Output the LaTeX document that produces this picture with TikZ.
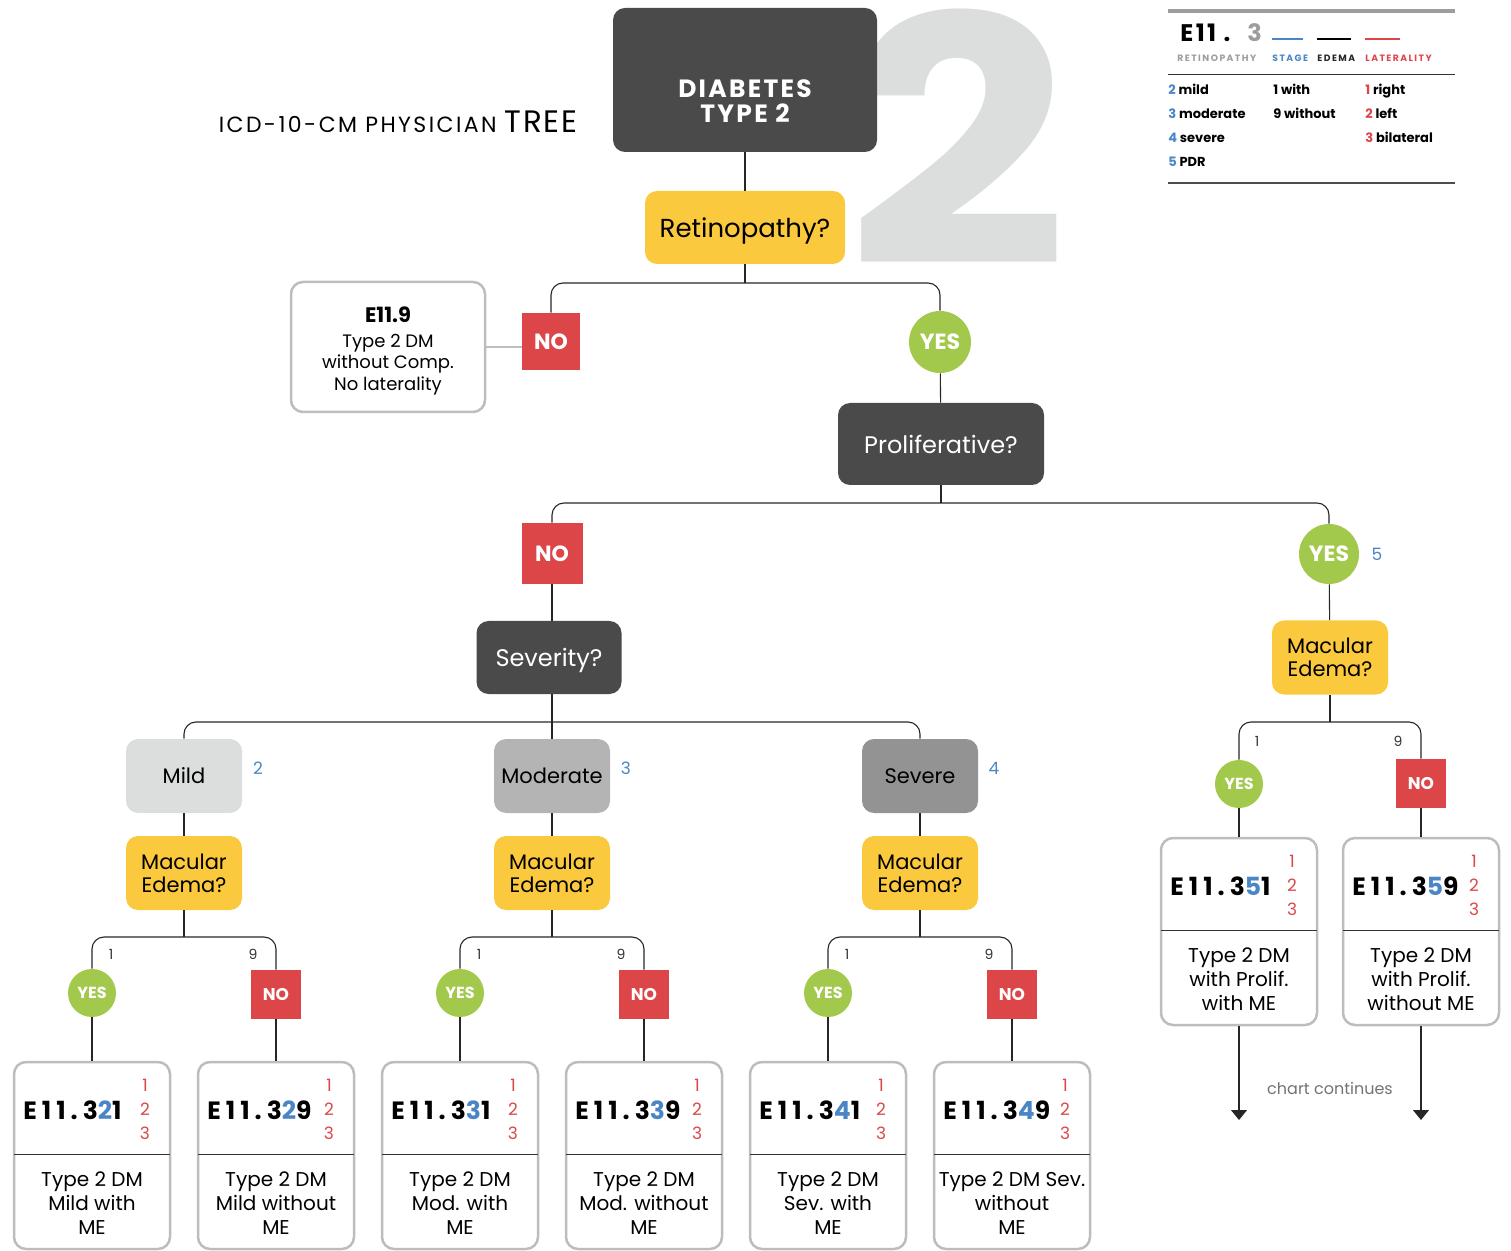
\documentclass[tikz,border=0pt]{standalone}
\usepackage{fontspec}
\setmainfont{Poppins}
\usetikzlibrary{arrows.meta}
\definecolor{darkbox}{HTML}{4A4A4A}
\definecolor{qyellow}{HTML}{FBC93D}
\definecolor{nored}{HTML}{DC4649}
\definecolor{yesgreen}{HTML}{A2C94C}
\definecolor{stageblue}{HTML}{4A86C5}
\definecolor{lightgrey}{HTML}{DCDDDD}
\definecolor{midgrey}{HTML}{B4B4B4}
\definecolor{deepgrey}{HTML}{939393}
\definecolor{rimgrey}{HTML}{BDBDBD}
\definecolor{leggrey}{HTML}{9D9D9D}
\tikzset{
  conn/.style={draw=black!85, line width=0.55pt},
  elbow/.style={conn, rounded corners=6pt},
  darkq/.style={fill=darkbox, text=white, rounded corners=6pt, inner sep=0pt, align=center},
  yellowq/.style={fill=qyellow, rounded corners=6pt, inner sep=0pt, align=center},
  greyq/.style={rounded corners=6pt, inner sep=0pt, minimum width=58pt, minimum height=37pt, font=\fontsize{10.5}{12}\selectfont},
  nobox/.style={fill=nored, text=white, inner sep=0pt, font=\bfseries\fontsize{11}{11}\selectfont},
  yesdot/.style={circle, fill=yesgreen, text=white, inner sep=0pt, font=\bfseries\fontsize{11}{11}\selectfont},
  smallno/.style={nobox, minimum width=25pt, minimum height=24.5pt, font=\bfseries\fontsize{8.5}{8.5}\selectfont},
  smallyes/.style={yesdot, minimum size=24pt, font=\bfseries\fontsize{8}{8}\selectfont},
  stagenum/.style={text=stageblue, inner sep=0pt, font=\fontsize{8.5}{8.5}\selectfont},
  branchnum/.style={text=black!80, inner sep=0pt, font=\fontsize{7}{7}\selectfont},
  codeframe/.style={draw=rimgrey, line width=1.25pt, fill=white, rounded corners=6pt, minimum width=78pt, minimum height=93.5pt, inner sep=0pt},
  codetext/.style={inner sep=0pt, font=\bfseries\fontsize{12.5}{12.5}\selectfont\addfontfeature{LetterSpace=20}},
  latnum/.style={text=nored, align=center, inner sep=0pt, font=\fontsize{8.5}{12}\selectfont},
  desctext/.style={align=center, inner sep=0pt, font=\fontsize{10}{12}\selectfont},
  legcap/.style={anchor=base west, inner sep=0pt, font=\bfseries\fontsize{4.6}{5}\selectfont\addfontfeature{LetterSpace=16}},
  legrow/.style={anchor=base west, inner sep=0pt, font=\bfseries\fontsize{6.5}{6.5}\selectfont},
}
% code box: name, centre x, top y, stage digit, edema digit, description
\newcommand{\codebox}[6]{%
  \node[codeframe] (#1) at (#2,#3+93.5) {};
  \draw[line width=0.5pt, draw=black!80] (#2-78,#3+92.5) -- (#2+78,#3+92.5);
  \node[codetext, anchor=west] (#1-code) at (#2-69,#3+48) {E11.3\textcolor{stageblue}{#4}#5};
  \node[latnum] (#1-lat) at (#2+53,#3+47) {1\\2\\3};
  \node[desctext] (#1-desc) at (#2,#3+141) {#6};
}
\begin{document}
\begin{tikzpicture}[x=0.5pt,y=-0.5pt]
  \useasboundingbox (0,0) rectangle (1511,1251);
  % big background digit and title
  \node[text=lightgrey, inner sep=0pt, anchor=base, font=\bfseries\fontsize{172}{172}\selectfont] (bigtwo) at (957,266) {\scalebox{1.13}[1]{2}};
  \node[anchor=base east, inner sep=0pt] (title) at (578,133)
    {{\fontsize{11}{11}\selectfont\addfontfeature{LetterSpace=11}ICD-10-CM PHYSICIAN}\hspace{4pt}{\fontsize{15.5}{15.5}\selectfont\addfontfeature{LetterSpace=6}TREE}};

  % top of the tree
  \node[darkq, minimum width=132pt, minimum height=72pt] (diab) at (745,80) {};
  \node[text=white, inner sep=0pt, align=center, font=\bfseries\fontsize{12.5}{12.5}\selectfont\addfontfeature{LetterSpace=9}] (diab-text) at (745,101) {DIABETES\\TYPE 2};
  \node[yellowq, minimum width=100pt, minimum height=36.5pt, text depth=0pt, font=\fontsize{13}{13}\selectfont] (retin) at (745,227.5) {Retinopathy?};
  \node[nobox, minimum width=29pt, minimum height=28.5pt] (no1) at (551,341.5) {NO};
  \node[yesdot, minimum size=31pt] (yes1) at (940,342) {YES};
  \node[draw=rimgrey, line width=1.25pt, rounded corners=6pt, minimum width=97pt, minimum height=65pt, inner sep=0pt] (e119) at (388,347) {};
  \node[inner sep=0pt, align=center, font=\fontsize{9}{10.75}\selectfont] (e119-text) at (388,351)
    {{\bfseries\fontsize{10.5}{13}\selectfont E11.9}\\[1.5pt]Type 2 DM\\without Comp.\\No laterality};
  \coordinate (j1) at (745,283);
  \draw[conn] (diab) -- (retin);
  \draw[conn] (retin) -- (j1);
  \draw[elbow] (no1.north) |- (j1) -| (yes1.north);
  \draw[conn, draw=rimgrey] (e119.east) -- (e119.east -| no1.west);

  % proliferative?
  \node[darkq, minimum width=103pt, minimum height=41pt, font=\fontsize{12}{12}\selectfont] (prolif) at (941,444) {Proliferative?};
  \node[nobox, minimum width=30.5pt, minimum height=30.5pt] (no2) at (552,553.5) {NO};
  \node[yesdot, minimum size=30pt] (yes2) at (1329,554) {YES};
  \node[stagenum] (s5) at (1377,554) {5};
  \coordinate (j2) at (941,503);
  \draw[conn] (yes1) -- (prolif);
  \draw[conn] (prolif) -- (j2);
  \draw[elbow] (no2.north) |- (j2) -| (yes2.north);

  % severity
  \node[darkq, minimum width=72.5pt, minimum height=36.5pt, text depth=0pt, font=\fontsize{12}{12}\selectfont] (sever) at (549,657.5) {Severity?};
  \coordinate (j3) at (552,722);
  \draw[conn] (no2) -- (no2 |- sever.north);
  \draw[conn] (j3 |- sever.south) -- (j3);
  \foreach \g/\cx/\lvl/\shade/\num in {1/184/Mild/lightgrey/2, 2/552/Moderate/midgrey/3, 3/920/Severe/deepgrey/4} {
    \node[greyq, fill=\shade] (stage\g) at (\cx,776) {\lvl};
    \node[stagenum] (num\g) at (\cx+74,768) {\num};
    \node[yellowq, minimum width=58pt, minimum height=37pt, font=\fontsize{10.5}{11.5}\selectfont] (me\g) at (\cx,873) {Macular\\Edema?};
    \node[smallyes] (y\g) at (\cx-92,993) {YES};
    \node[smallno] (n\g) at (\cx+92,994.5) {NO};
    \node[branchnum] (w\g) at (\cx-73,954) {1};
    \node[branchnum] (wo\g) at (\cx+69,954) {9};
    \coordinate (jb\g) at (\cx,937);
    \draw[conn] (stage\g) -- (me\g);
    \draw[conn] (me\g) -- (jb\g);
    \draw[elbow] (y\g.north) |- (jb\g) -| (n\g.north);
  }
  \draw[elbow] (stage1.north) |- (j3) -| (stage3.north);
  \draw[conn] (j3) -- (stage2);

  % final codes
  \codebox{c321}{92}{1062}{2}{1}{Type 2 DM\\Mild with\\ME}
  \codebox{c329}{276}{1062}{2}{9}{Type 2 DM\\Mild without\\ME}
  \codebox{c331}{460}{1062}{3}{1}{Type 2 DM\\Mod. with\\ME}
  \codebox{c339}{644}{1062}{3}{9}{Type 2 DM\\Mod. without\\ME}
  \codebox{c341}{828}{1062}{4}{1}{Type 2 DM\\Sev. with\\ME}
  \codebox{c349}{1012}{1062}{4}{9}{Type 2 DM Sev.\\without\\ME}
  \draw[conn] (y1) -- (c321);
  \draw[conn] (n1) -- (c329);
  \draw[conn] (y2) -- (c331);
  \draw[conn] (n2) -- (c339);
  \draw[conn] (y3) -- (c341);
  \draw[conn] (n3) -- (c349);

  % proliferative branch
  \node[yellowq, minimum width=58pt, minimum height=37pt, font=\fontsize{10.5}{11.5}\selectfont] (me4) at (1330,657.5) {Macular\\Edema?};
  \node[smallyes] (y4) at (1239,784) {YES};
  \node[smallno] (n4) at (1421,783.5) {NO};
  \node[branchnum] (w4) at (1257,741) {1};
  \node[branchnum] (wo4) at (1398,741) {9};
  \coordinate (j7) at (1330,722);
  \draw[conn] (yes2) -- (me4);
  \draw[conn] (me4) -- (j7);
  \draw[elbow] (y4.north) |- (j7) -| (n4.north);
  \codebox{c351}{1239}{838}{5}{1}{Type 2 DM\\with Prolif.\\with ME}
  \codebox{c359}{1421}{838}{5}{9}{Type 2 DM\\with Prolif.\\without ME}
  \draw[conn] (y4) -- (c351);
  \draw[conn] (n4) -- (c359);
  \coordinate (end351) at (1239,1120);
  \coordinate (end359) at (1421,1120);
  \draw[conn, -{Triangle[width=8pt,length=5pt]}] (c351.south) -- (end351);
  \draw[conn, -{Triangle[width=8pt,length=5pt]}] (c359.south) -- (end359);
  \node[text=black!55, inner sep=0pt, font=\fontsize{8}{8}\selectfont] (cont) at (1330,1088) {chart continues};

  % legend
  \draw[draw=leggrey, line width=2pt] (1168,11) -- (1455,11);
  \node[anchor=base west, inner sep=0pt, font=\bfseries\fontsize{12}{12}\selectfont\addfontfeature{LetterSpace=10}] (legcode) at (1180,42) {E11 .};
  \node[anchor=base west, inner sep=0pt, text=leggrey, font=\bfseries\fontsize{12}{12}\selectfont] (legret) at (1247,42) {3};
  \draw[stageblue, line width=1.2pt] (1272,39) -- (1303,39);
  \draw[black, line width=1.2pt] (1317,39) -- (1351,39);
  \draw[nored, line width=1.2pt] (1365,39) -- (1400,39);
  \node[legcap, text=leggrey] (cap1) at (1177,62) {RETINOPATHY};
  \node[legcap, text=stageblue] (cap2) at (1272,62) {STAGE};
  \node[legcap, text=black!85] (cap3) at (1317,62) {EDEMA};
  \node[legcap, text=nored] (cap4) at (1365,62) {LATERALITY};
  \draw[black!80, line width=0.5pt] (1168,75) -- (1455,75);
  \foreach \n/\w [count=\i] in {2/mild,3/moderate,4/severe,5/PDR}
    \node[legrow] (legs\i) at (1168,71+24*\i) {\textcolor{stageblue}{\n} \w};
  \foreach \n/\w [count=\i] in {1/with,9/without}
    \node[legrow] (lege\i) at (1273,71+24*\i) {\n\ \w};
  \foreach \n/\w [count=\i] in {1/right,2/left,3/bilateral}
    \node[legrow] (legl\i) at (1365,71+24*\i) {\textcolor{nored}{\n} \w};
  \draw[black!70, line width=0.6pt] (1168,183) -- (1455,183);
\end{tikzpicture}
\end{document}
